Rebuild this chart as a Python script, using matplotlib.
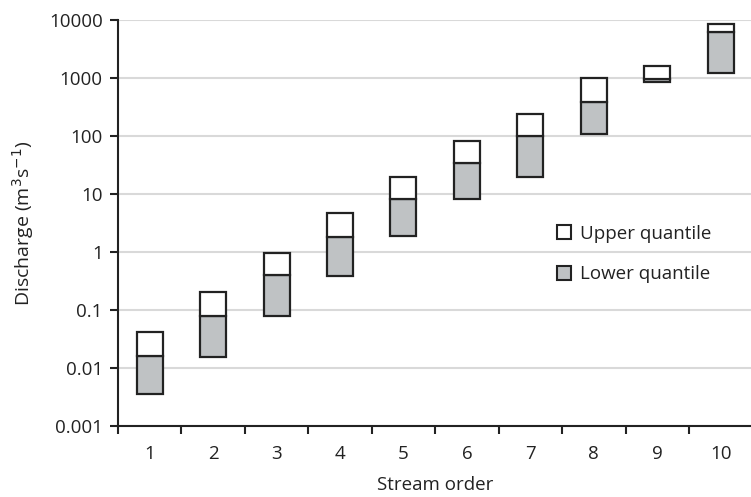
import numpy as np
import matplotlib.pyplot as plt
from matplotlib.patches import Patch

plt.rcParams['font.family'] = ['Open Sans', 'DejaVu Sans']

# stream order and the three quantile edges
orders = [1, 2, 3, 4, 5, 6, 7, 8, 9, 10]
q_low = [0.0036, 0.0153, 0.078, 0.39, 1.89, 8.3, 19.9, 107, 863, 1230]
q_mid = [0.0163, 0.078, 0.40, 1.84, 8.2, 34.7, 100, 390, 950, 6140]
q_high = [0.042, 0.20, 0.95, 4.65, 19.9, 82, 240, 1000, 1610, 8430]

yticks = [0.001, 0.01, 0.1, 1, 10, 100, 1000, 10000]
ylabels = ["0.001", "0.01", "0.1", "1", "10", "100", "1000", "10000"]

grey = "#bfc2c4"
ink = "#222222"

fig = plt.figure(figsize=(7.51, 4.97), dpi=100)
ax = fig.add_axes([0.157, 0.143, 0.845, 0.817])

x = np.array(orders)
low = np.array(q_low)
mid = np.array(q_mid)
high = np.array(q_high)

# lower quantile (grey) and upper quantile (white) as stacked bars
ax.bar(x, mid - low, bottom=low, width=0.41, color=grey,
       edgecolor=ink, linewidth=1.6, zorder=3)
ax.bar(x, high - mid, bottom=mid, width=0.41, color="white",
       edgecolor=ink, linewidth=1.6, zorder=3)

ax.set_yscale("log")
ax.set_ylim(0.001, 10000)
ax.set_yticks(yticks)
ax.set_yticklabels(ylabels)
ax.yaxis.set_minor_locator(plt.NullLocator())
ax.set_xlim(0.5, 10.5)

# ticks sit between categories, labels in the middle
ax.set_xticks(np.arange(0.5, 10.6, 1.0))
ax.set_xticklabels([])
ax.set_xticks(x, minor=True)
ax.set_xticklabels([str(o) for o in orders], minor=True)
ax.tick_params(axis="x", which="minor", length=0, pad=14, labelsize=13.5, colors=ink)
ax.tick_params(axis="x", which="major", length=6, width=1.5, direction="out", color=ink)
ax.tick_params(axis="y", length=6, width=1.5, direction="out", labelsize=13.5, pad=5, color=ink, labelcolor=ink)

ax.grid(axis="y", color="#d9d9d9", linewidth=1.5, zorder=0)
ax.set_axisbelow(True)
for s in ["top", "right"]:
    ax.spines[s].set_visible(False)
for s in ["left", "bottom"]:
    ax.spines[s].set_linewidth(1.5)
    ax.spines[s].set_color(ink)

ax.set_xlabel("Stream order", fontsize=13.5, color=ink, labelpad=9)
ax.set_ylabel("Discharge (m$^3$s$^{-1}$)", fontsize=14, color=ink, labelpad=9)

handles = [Patch(facecolor="white", edgecolor=ink, linewidth=1.5, label="Upper quantile"),
           Patch(facecolor=grey, edgecolor=ink, linewidth=1.5, label="Lower quantile")]
ax.legend(handles=handles, loc="upper left", bbox_to_anchor=(0.666, 0.537),
          frameon=False, fontsize=13.5, handlelength=0.75, handleheight=0.75,
          handletextpad=0.45, labelspacing=1.2, labelcolor=ink)

fig.savefig("out.png", dpi=100)
